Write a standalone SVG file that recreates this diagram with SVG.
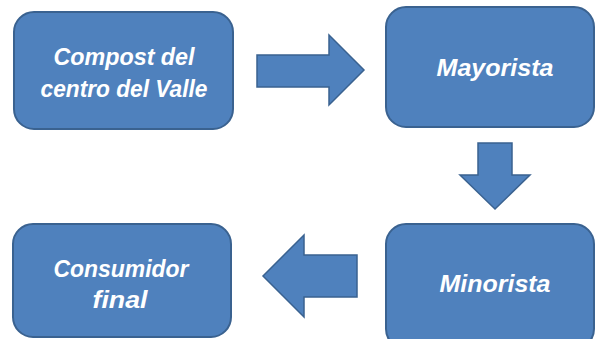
<svg xmlns="http://www.w3.org/2000/svg" width="595" height="339" viewBox="0 0 595 339">
<style>
.box{fill:#4F81BD;stroke:#3A6290;stroke-width:2}
.arr{fill:#4F81BD;stroke:#3A6290;stroke-width:1.5;stroke-linejoin:miter}
.t{font-family:"Liberation Sans",Arial,sans-serif;font-weight:bold;font-style:italic;font-size:23px;fill:#FFFFFF;text-anchor:middle}
</style>
<rect width="595" height="339" fill="#FFFFFF"/>
<g id="connectors">
<polygon class="arr" points="257,55 329,55 329,35 364,70 329,105 329,87 257,87"/>
<polygon class="arr" points="478,143 512,143 512,175 530,175 495,209 460,175 478,175"/>
<polygon class="arr" points="357,255 304,255 304,235 263,276 304,317 304,297 357,297"/>
</g>
<g id="compost">
<rect class="box" x="14" y="12" width="219" height="117" rx="20"/>
<text class="t" x="124" y="65" textLength="141" lengthAdjust="spacingAndGlyphs">Compost del</text>
<text class="t" x="124" y="97" textLength="167" lengthAdjust="spacingAndGlyphs">centro del Valle</text>
</g>
<g id="mayorista">
<rect class="box" x="386" y="7" width="208" height="120" rx="20"/>
<text class="t" x="495" y="76" textLength="117" lengthAdjust="spacingAndGlyphs">Mayorista</text>
</g>
<g id="minorista">
<rect class="box" x="386" y="224" width="208" height="125" rx="20"/>
<text class="t" x="495" y="292" textLength="111" lengthAdjust="spacingAndGlyphs">Minorista</text>
</g>
<g id="consumidor">
<rect class="box" x="13" y="224" width="218" height="113" rx="20"/>
<text class="t" x="121" y="277" textLength="135" lengthAdjust="spacingAndGlyphs">Consumidor</text>
<text class="t" x="120" y="308" textLength="55" lengthAdjust="spacingAndGlyphs">final</text>
</g>
</svg>
